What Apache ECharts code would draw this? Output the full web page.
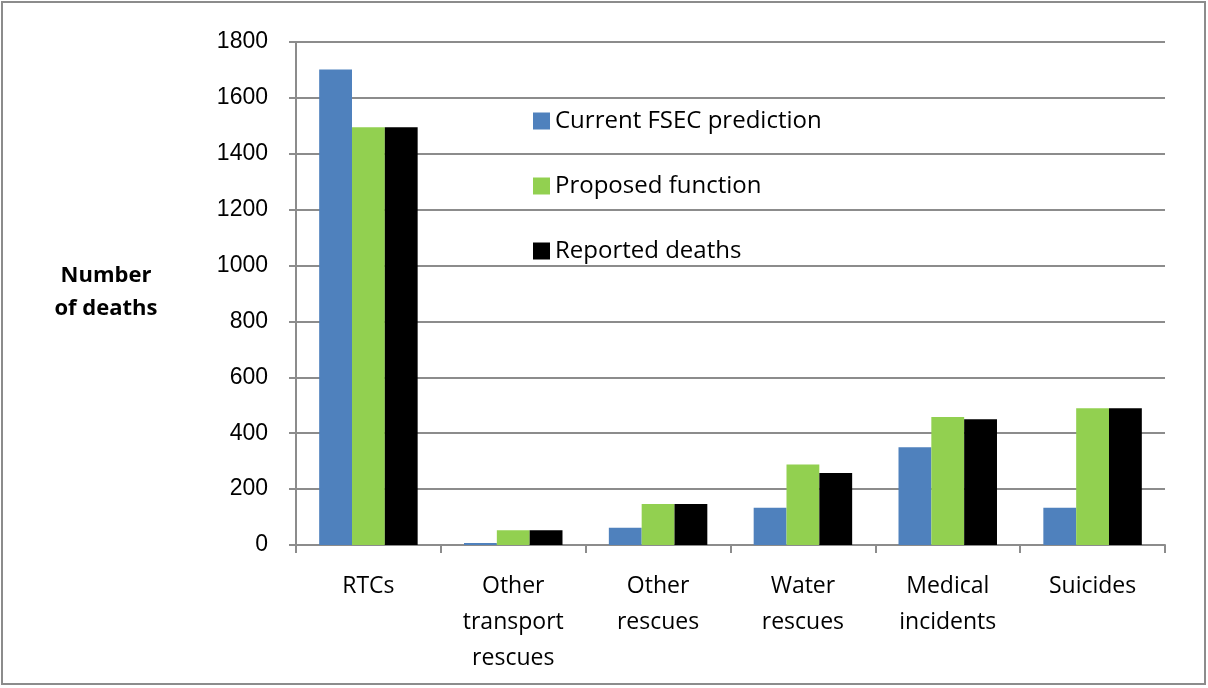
<!DOCTYPE html>
<html>
<head>
    <meta charset="utf-8" />
    <title>Number of deaths</title>
    <style>
        html, body { margin: 0; padding: 0; background: #fff; }
        #main { width: 1208px; height: 688px; }
    </style>
</head>
<body>
    <div id="main"></div>
    <script src="https://cdn.jsdelivr.net/npm/echarts@6/dist/echarts.min.js"></script>
    <script type="text/javascript">
        var categories = ['RTCs', 'Other\ntransport\nrescues', 'Other\nrescues', 'Water\nrescues', 'Medical\nincidents', 'Suicides'];
        var currentFsec = [1702, 7, 62, 133, 350, 133];
        var proposed = [1495, 53, 147, 288, 458, 489];
        var reported = [1495, 53, 147, 258, 450, 489];
        var seriesNames = ['Current FSEC prediction', 'Proposed function', 'Reported deaths'];

        var font = "'Open Sans', 'Liberation Sans', sans-serif";
        var chart = echarts.init(document.getElementById('main'));

        var option = {
            backgroundColor: '#fff',
            animation: false,
            textStyle: { fontFamily: font },
            graphic: [{
                type: 'rect',
                shape: { x: 2, y: 2, width: 1203, height: 682 },
                style: { fill: 'none', stroke: '#8c8c8c', lineWidth: 2 }
            }, {
                type: 'text',
                x: 106, y: 259,
                style: {
                    text: 'Number\nof deaths', fontFamily: font, fontSize: 22, fontWeight: 'bold',
                    fill: '#000', align: 'center', lineHeight: 33
                }
            }],
            legend: {
                orient: 'vertical',
                left: 528, top: 104,
                itemWidth: 17, itemHeight: 17, itemGap: 41,
                icon: 'rect',
                textStyle: { fontSize: 24, color: '#000', fontFamily: font },
                data: seriesNames
            },
            grid: { left: 296, right: 43, top: 42, bottom: 143 },
            xAxis: {
                type: 'category',
                data: categories,
                axisLine: { lineStyle: { color: '#8c8c8c', width: 2 } },
                axisTick: { show: true, length: 8, lineStyle: { color: '#8c8c8c', width: 2 } },
                axisLabel: { fontSize: 23, color: '#000', lineHeight: 36, margin: 23, interval: 0 }
            },
            yAxis: {
                type: 'value',
                min: 0, max: 1800, interval: 200,
                axisLine: { show: true, lineStyle: { color: '#8c8c8c', width: 2 } },
                axisTick: { show: true, length: 7, lineStyle: { color: '#8c8c8c', width: 2 } },
                axisLabel: {
                    fontSize: 23, color: '#000', margin: 28,
                    fontFamily: "'Liberation Sans', Arial, sans-serif",
                    formatter: function (v) { return String(v); }
                },
                splitLine: { lineStyle: { color: '#8c8c8c', width: 2 } }
            },
            series: [{
                name: seriesNames[0], type: 'bar', data: currentFsec,
                itemStyle: { color: '#4f81bd' },
                barGap: '0%', barCategoryGap: '32%'
            }, {
                name: seriesNames[1], type: 'bar', data: proposed,
                itemStyle: { color: '#92d050' }
            }, {
                name: seriesNames[2], type: 'bar', data: reported,
                itemStyle: { color: '#000000' }
            }]
        };

        chart.setOption(option);
    </script>
</body>
</html>
